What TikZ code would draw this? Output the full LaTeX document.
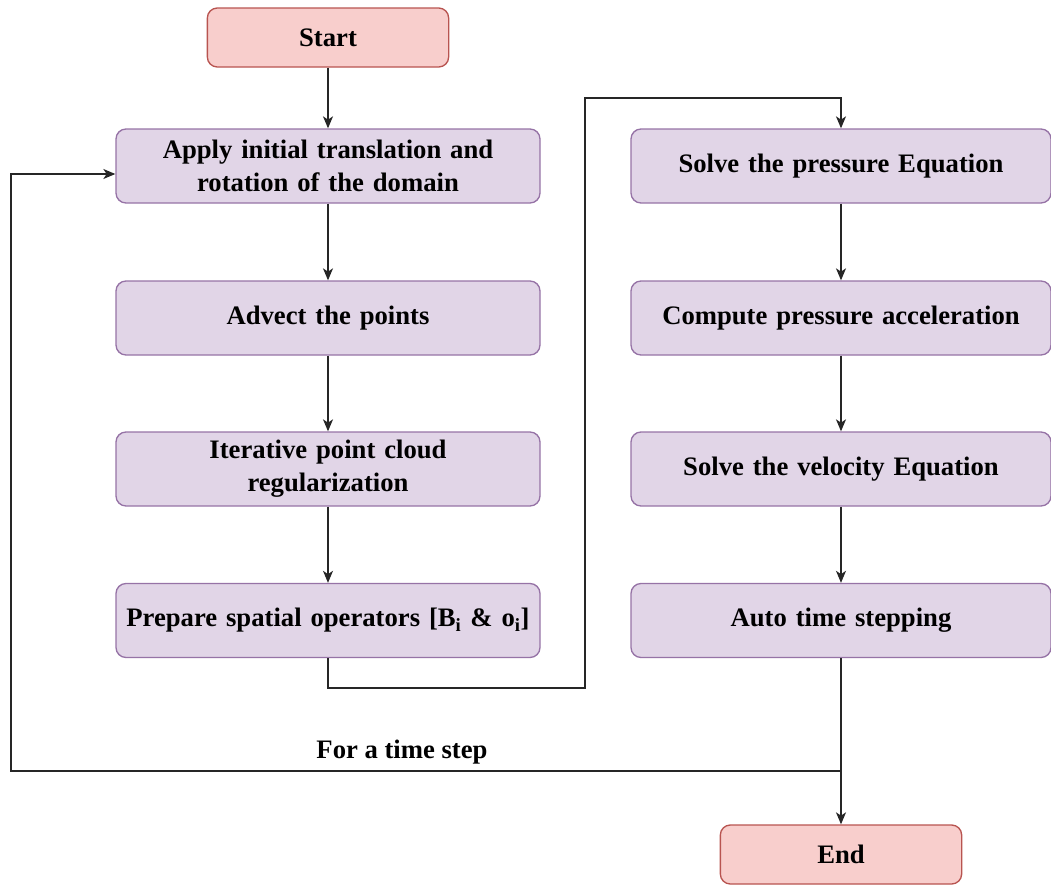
\documentclass[tikz,border=0pt]{standalone}
\usepackage{fontspec}
\setmainfont{Liberation Serif}
\usetikzlibrary{arrows.meta}
\definecolor{redfill}{HTML}{F8CECC}
\definecolor{redline}{HTML}{B85450}
\definecolor{purfill}{HTML}{E1D5E7}
\definecolor{purline}{HTML}{9673A6}
\begin{document}
\begin{tikzpicture}[x=0.75pt,y=-0.75pt,
  txt/.style={font=\fontsize{20}{24.5}\selectfont\bfseries},
  box/.style={txt, rounded corners=7.5pt, line width=1pt, align=center, inner sep=0pt},
  terminal/.style={box, fill=redfill, draw=redline, minimum width=181pt, minimum height=44.25pt, text width=170pt},
  stepbox/.style={box, fill=purfill, draw=purline, minimum height=55.5pt},
  leftbox/.style={stepbox, minimum width=318pt, text width=312pt},
  rightbox/.style={stepbox, minimum width=315pt, text width=305pt},
  link/.style={line width=1pt, draw=black!85, -{Stealth[length=9pt,width=7.5pt,inset=2.5pt]}},
  wire/.style={line width=1pt, draw=black!85},
  ]
\useasboundingbox (0,0) rectangle (1051,885);

% terminals
\node[terminal] (start) at (328,37.5) {Start};
\node[terminal] (end) at (841,854.5) {End};

% left column
\node[leftbox] (b1) at (328,166) {Apply initial translation and\\rotation of the domain};
\node[leftbox] (b2) at (328,318) {Advect the points};
\node[leftbox] (b3) at (328,469) {Iterative point cloud\\regularization};
\node[leftbox] (b4) at (328,620.5) {Prepare spatial operators [B\textsubscript{i} \& o\textsubscript{i}]};

% right column
\node[rightbox] (r1) at (841,166) {Solve the pressure Equation};
\node[rightbox] (r2) at (841,318) {Compute pressure acceleration};
\node[rightbox] (r3) at (841,469) {Solve the velocity Equation};
\node[rightbox] (r4) at (841,620.5) {Auto time stepping};

% loop label
\node[txt] (lbl) at (402,752) {For a time step};

% routing points
\coordinate (j1) at (585,688);
\coordinate (j2) at (585,98);
\coordinate (turn) at (841,771);
\coordinate (lc) at (11,771);

% connectors
\draw[link] (start) -- (b1);
\draw[link] (b1) -- (b2);
\draw[link] (b2) -- (b3);
\draw[link] (b3) -- (b4);
\draw[link] (b4.south) |- (j1) -- (j2) -| (r1.north);
\draw[link] (r1) -- (r2);
\draw[link] (r2) -- (r3);
\draw[link] (r3) -- (r4);
\draw[link] (r4) -- (end);
\draw[link] (turn) -- (lc) |- ([yshift=-6pt]b1.west);
\end{tikzpicture}
\end{document}
